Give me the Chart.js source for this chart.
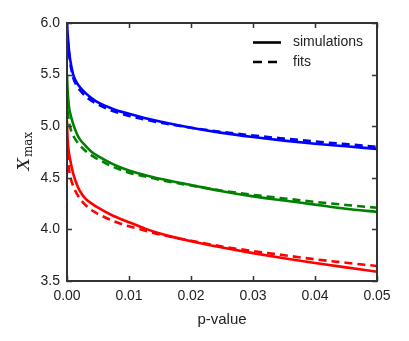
<!DOCTYPE html>
<html>
<head>
<meta charset="utf-8">
<script src="https://cdn.jsdelivr.net/npm/chart.js@4/dist/chart.umd.min.js"></script>
<style>
html,body{margin:0;padding:0;background:#fff;}
canvas{display:block;}
</style>
</head>
<body>
<canvas id="c" width="409" height="341"></canvas>
<script>
// p-values (x positions of the sampled points)
const pValues = [0, 0.0001, 0.0003, 0.0005, 0.001, 0.0015, 0.002, 0.003, 0.004, 0.005, 0.0075, 0.01, 0.0125, 0.015, 0.02, 0.025, 0.03, 0.035, 0.04, 0.045, 0.05];

// simulations (solid)
const blueSim  = [6.00, 5.90, 5.75, 5.65, 5.50, 5.43, 5.385, 5.32, 5.27, 5.23, 5.165, 5.12, 5.08, 5.045, 4.985, 4.935, 4.895, 4.86, 4.83, 4.805, 4.78];
const greenSim = [5.50, 5.35, 5.20, 5.13, 5.02, 4.94, 4.88, 4.81, 4.75, 4.71, 4.63, 4.57, 4.528, 4.49, 4.43, 4.37, 4.32, 4.28, 4.24, 4.20, 4.17];
const redSim   = [5.05, 4.88, 4.75, 4.68, 4.54, 4.45, 4.38, 4.295, 4.25, 4.21, 4.13, 4.07, 4.01, 3.96, 3.885, 3.825, 3.77, 3.72, 3.675, 3.632, 3.59];

// fits (dashed)
const blueFit  = [null, 5.85, 5.72, 5.62, 5.47, 5.40, 5.355, 5.29, 5.245, 5.21, 5.145, 5.10, 5.065, 5.035, 4.985, 4.945, 4.91, 4.88, 4.852, 4.826, 4.80];
const greenFit = [null, 5.15, 5.05, 4.99, 4.91, 4.86, 4.82, 4.76, 4.715, 4.68, 4.605, 4.55, 4.515, 4.48, 4.425, 4.375, 4.335, 4.30, 4.267, 4.237, 4.21];
const redFit   = [null, 4.75, 4.60, 4.52, 4.42, 4.355, 4.305, 4.235, 4.185, 4.15, 4.08, 4.03, 3.99, 3.95, 3.89, 3.835, 3.79, 3.75, 3.71, 3.677, 3.645];

const xTicks = [0, 0.01, 0.02, 0.03, 0.04, 0.05];
const yTicks = [3.5, 4.0, 4.5, 5.0, 5.5, 6.0];
const legendLabels = ['simulations', 'fits'];

function pts(ys){ return pValues.map((x,i)=>({x:x,y:ys[i]})).filter(p=>p.y!==null); }

function ds(ys, color, dashed){
  return {
    data: pts(ys),
    borderColor: color,
    borderWidth: 2.6,
    borderDash: dashed ? [8,5] : [],
    pointRadius: 0,
    fill: false,
    cubicInterpolationMode: 'monotone',
    order: dashed ? 0 : 1
  };
}

const tickFont = {family: "'Liberation Sans', Arial, sans-serif", size: 14};

const framePlugin = {
  id: 'frame',
  afterDatasetsDraw(chart){
    const {ctx, chartArea:a, scales} = chart;
    ctx.save();
    ctx.strokeStyle = '#333';
    ctx.lineWidth = 1.5;
    const L = 5;
    ctx.beginPath();
    xTicks.forEach(v=>{
      const px = Math.round(scales.x.getPixelForValue(v)) + 0.5;
      ctx.moveTo(px, a.bottom); ctx.lineTo(px, a.bottom - L);
      ctx.moveTo(px, a.top); ctx.lineTo(px, a.top + L);
    });
    yTicks.forEach(v=>{
      const py = Math.round(scales.y.getPixelForValue(v)) + 0.5;
      ctx.moveTo(a.left, py); ctx.lineTo(a.left + L, py);
      ctx.moveTo(a.right, py); ctx.lineTo(a.right - L, py);
    });
    ctx.stroke();
    ctx.lineWidth = 2;
    ctx.strokeRect(a.left, a.top, a.right - a.left, a.bottom - a.top);

    // legend
    ctx.strokeStyle = '#000';
    ctx.lineWidth = 2.6;
    ctx.beginPath();
    ctx.moveTo(253, 42.5); ctx.lineTo(281, 42.5);
    ctx.stroke();
    ctx.setLineDash([9,6]);
    ctx.beginPath();
    ctx.moveTo(253, 62); ctx.lineTo(281, 62);
    ctx.stroke();
    ctx.setLineDash([]);
    ctx.fillStyle = '#222';
    ctx.font = "14px 'Liberation Sans', Arial, sans-serif";
    ctx.textBaseline = 'middle';
    ctx.textAlign = 'left';
    ctx.fillText(legendLabels[0], 293, 42);
    ctx.fillText(legendLabels[1], 293, 62);

    // y axis title X_max
    ctx.translate(29, 151);
    ctx.rotate(-Math.PI/2);
    ctx.textBaseline = 'alphabetic';
    const f1 = "italic 17px 'DejaVu Serif', serif";
    const f2 = "12px 'DejaVu Serif', serif";
    ctx.font = f1; const w1 = ctx.measureText('X').width;
    ctx.font = f2; const w2 = ctx.measureText('max').width;
    const x0 = -(w1 + w2 + 1)/2;
    ctx.font = f1; ctx.fillText('X', x0, 0);
    ctx.font = f2; ctx.fillText('max', x0 + w1 + 1, 3);
    ctx.restore();
  }
};

new Chart(document.getElementById('c'), {
  type: 'line',
  data: { datasets: [
    ds(blueSim, '#0000ff', false), ds(blueFit, '#0000ff', true),
    ds(greenSim, '#008000', false), ds(greenFit, '#008000', true),
    ds(redSim, '#ff0000', false), ds(redFit, '#ff0000', true)
  ]},
  options: {
    responsive: false,
    animation: false,
    devicePixelRatio: 1,
    layout: { padding: { top: 23, right: 32, bottom: 0, left: 0 } },
    plugins: { legend: {display:false}, tooltip: {enabled:false} },
    scales: {
      x: {
        type: 'linear', min: 0, max: 0.05,
        afterFit(s){ s.height = 60; },
        afterBuildTicks(s){ s.ticks = xTicks.map(v=>({value:v})); },
        grid: { display: false, drawTicks: false },
        border: { display: false },
        ticks: { font: tickFont, color: '#222', padding: 7, maxRotation: 0, callback: v => Number(v).toFixed(2) },
        title: { display: true, text: 'p-value', font: {family: "'Liberation Sans', Arial, sans-serif", size: 15}, color: '#222', padding: {top: 4, bottom: 12} }
      },
      y: {
        type: 'linear', min: 3.5, max: 6.0,
        afterFit(s){ s.width = 67; },
        afterBuildTicks(s){ s.ticks = yTicks.map(v=>({value:v})); },
        grid: { display: false, drawTicks: false },
        border: { display: false },
        ticks: { font: tickFont, color: '#222', padding: 7, callback: v => Number(v).toFixed(1) }
      }
    }
  },
  plugins: [framePlugin]
});
</script>
</body>
</html>
